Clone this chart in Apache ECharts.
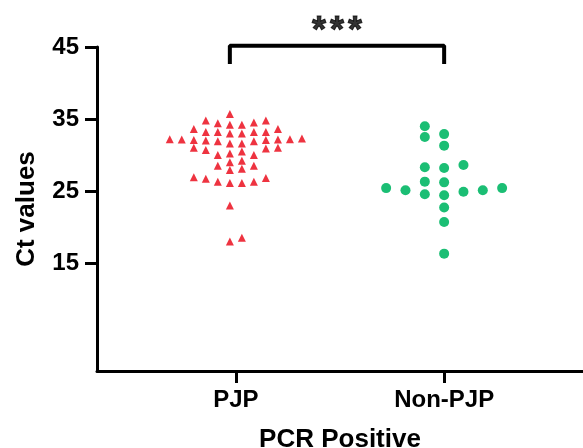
<!DOCTYPE html>
<html>
<head>
<meta charset="utf-8">
<script src="https://cdn.jsdelivr.net/npm/echarts@6/dist/echarts.min.js"></script>
<style>
  html, body { margin: 0; padding: 0; background: #fff; }
  #chart { width: 583px; height: 448px; }
</style>
</head>
<body>
<div id="chart"></div>
<script>
// Ct values
let categories = ['PJP', 'Non-PJP'];
let pjpValues = [35.7, 34.8, 34.8, 34.5, 34.4, 34.2, 34.2, 33.6, 33.6, 33.2, 33.2, 33.2, 33.2,
    33.0, 33.0, 32.3, 32.2, 32.2, 32.15, 32.15, 32.1, 32.1, 32.0, 31.9, 31.9, 31.6, 31.6,
    31.0, 31.0, 30.9, 30.7, 30.5, 30.2, 30.0, 30.0, 29.2, 29.0, 28.5, 28.5, 28.1, 27.9,
    26.9, 26.8, 26.7, 26.3, 26.3, 26.1, 26.1, 23.0, 18.5, 18.0];
let nonPjpValues = [34.0, 32.9, 32.5, 31.3, 28.6, 28.3, 28.2, 26.3, 26.2, 25.4, 25.4, 25.1,
    25.1, 24.9, 24.55, 24.4, 22.7, 20.7, 16.3];
let yTicks = [15, 25, 35, 45];
let significance = '***';

var font = 'Liberation Sans, Arial, sans-serif';

// simple grid beeswarm: each point goes to the free column nearest the centre
function swarm(values, gap) {
    var sorted = values.slice().sort(function (a, b) { return a - b; });
    // widest row decides whether there is a centre column
    var widest = 0;
    for (var i = 0; i < sorted.length; i++) {
        var n = 0;
        for (var j = i; j < sorted.length && sorted[j] - sorted[i] < gap; j++) n++;
        widest = Math.max(widest, n);
    }
    var half = widest % 2 === 0;
    var cols = {};
    return sorted.map(function (v) {
        for (var k = 0; k < 40; k++) {
            var c;
            if (half) c = k % 2 === 0 ? -(k / 2 + 0.5) : (k - 1) / 2 + 0.5;
            else c = k % 2 === 1 ? -(k + 1) / 2 : k / 2;
            var key = String(c);
            var list = cols[key] || [];
            var free = list.every(function (w) { return Math.abs(w - v) >= gap; });
            if (free) {
                list.push(v);
                cols[key] = list;
                return { col: c, value: v };
            }
        }
    });
}

function toPoints(values, centre, colWidth, gap) {
    return swarm(values, gap).map(function (p) {
        return [centre + p.col * colWidth, p.value];
    });
}

var pjpCol = 0.0577, nonCol = 0.0928;
var pjpPoints = toPoints(pjpValues, 1, pjpCol, 1.05);
var nonPoints = toPoints(nonPjpValues, 2, nonCol, 1.4);

// bracket from the first PJP column to the Non-PJP centre
var bx1 = 1 - pjpCol / 2, bx2 = 2, byTop = 45.17, byLow = 42.93;

var option = {
    animation: false,
    backgroundColor: '#fff',
    grid: { left: 97, right: 0, top: 47, bottom: 77, containLabel: false, outerBoundsMode: 'none' },
    xAxis: {
        type: 'value',
        min: 1 / 3,
        max: 8 / 3,
        name: 'PCR Positive',
        nameLocation: 'middle',
        nameGap: 56,
        nameTextStyle: { fontFamily: font, fontSize: 26, fontWeight: 'bold', color: '#000' },
        axisLine: { lineStyle: { color: '#000', width: 3 } },
        axisTick: { customValues: [1, 2], length: 12, lineStyle: { color: '#000', width: 3 } },
        axisLabel: {
            customValues: [1, 2],
            margin: 17,
            fontFamily: font, fontSize: 24, fontWeight: 'bold', color: '#000',
            formatter: function (v) { return categories[Math.round(v) - 1]; }
        },
        splitLine: { show: false }
    },
    yAxis: {
        type: 'value',
        min: 0,
        max: 45,
        name: 'Ct values',
        nameLocation: 'middle',
        nameGap: 57,
        nameTextStyle: { fontFamily: font, fontSize: 26, fontWeight: 'bold', color: '#000' },
        axisLine: { show: true, lineStyle: { color: '#000', width: 3 } },
        axisTick: { show: true, customValues: yTicks, length: 12, lineStyle: { color: '#000', width: 3 } },
        axisLabel: {
            customValues: yTicks,
            margin: 18,
            fontFamily: font, fontSize: 24, fontWeight: 'bold', color: '#000'
        },
        splitLine: { show: false }
    },
    series: [
        {
            name: categories[0],
            type: 'scatter',
            symbol: 'triangle',
            symbolSize: 8,
            itemStyle: { color: '#EE3340', opacity: 1 },
            data: pjpPoints
        },
        {
            name: categories[1],
            type: 'scatter',
            symbol: 'circle',
            symbolSize: 10,
            itemStyle: { color: '#1BBE74', opacity: 1 },
            data: nonPoints
        },
        {
            type: 'line',
            clip: false,
            symbol: 'none',
            silent: true,
            lineStyle: { color: '#000', width: 4, cap: 'square' },
            data: [[bx1, byLow], [bx1, byTop], [bx2, byTop], [bx2, byLow]]
        },
        {
            type: 'scatter',
            clip: false,
            symbolSize: 0,
            silent: true,
            label: {
                show: true,
                position: 'top',
                distance: -4,
                formatter: significance.split('').map(function (s) { return '{s|' + s + '}'; }).join(''),
                rich: {
                    s: {
                        fontFamily: font, fontSize: 36, fontWeight: 'bold', color: '#000',
                        textBorderColor: '#000', textBorderWidth: 1, width: 18, align: 'center'
                    }
                }
            },
            data: [[(bx1 + bx2) / 2, byTop]]
        }
    ]
};

var dom = document.getElementById('chart');
var myChart = echarts.init(dom);
myChart.setOption(option, true);
</script>
</body>
</html>
